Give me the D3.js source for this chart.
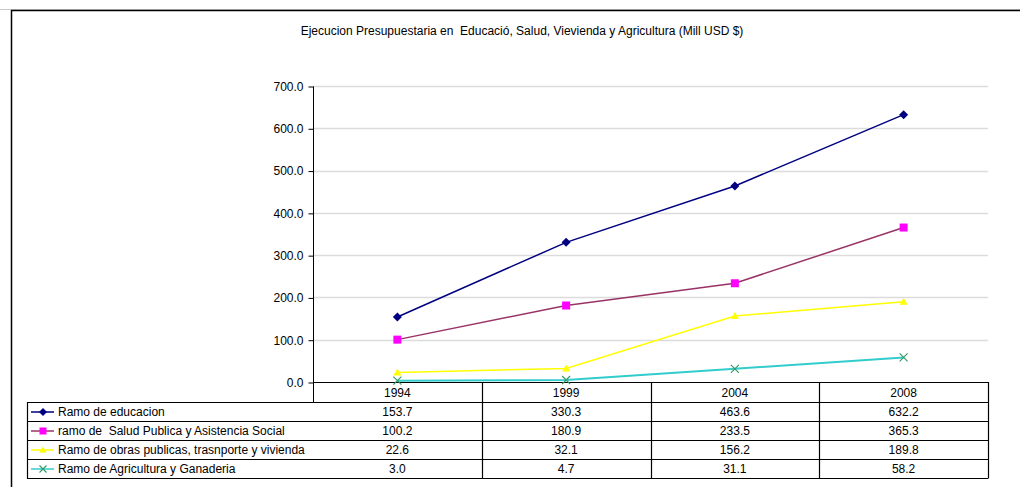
<!DOCTYPE html>
<html>
<head>
<meta charset="utf-8">
<script src="https://cdn.jsdelivr.net/npm/d3@7"></script>
<style>
  body { margin: 0; background: #fff; }
  svg text { font-family: "Liberation Sans", Arial, sans-serif; font-size: 12px; fill: #000; white-space: pre; }
</style>
</head>
<body>
<svg id="chart" width="1020" height="487"></svg>
<script>
/* Ejecucion presupuestaria - line chart with data table underneath */

var years = ["1994", "1999", "2004", "2008"];
var yTicks = [0, 100, 200, 300, 400, 500, 600, 700];

var seriesNames = [
  "Ramo de educacion",
  "ramo de  Salud Publica y Asistencia Social",
  "Ramo de obras publicas, trasnporte y vivienda",
  "Ramo de Agricultura y Ganaderia"
];
var educacion = [153.7, 330.3, 463.6, 632.2];
var salud = [100.2, 180.9, 233.5, 365.3];
var obras = [22.6, 32.1, 156.2, 189.8];
var agricultura = [3.0, 4.7, 31.1, 58.2];

var lineColors = ["#000080", "#993366", "#ffff00", "#33cccc"];
var markColors = ["#000080", "#ff00ff", "#ffff00", "#339966"];
var markTypes = ["diamond", "square", "triangle", "x"];

var series = [educacion, salud, obras, agricultura].map(function(v, i) {
  return {name: seriesNames[i], values: v, line: lineColors[i], mark: markColors[i], type: markTypes[i]};
});

var svg = d3.select("#chart");

// outer frame
svg.append("line").attr("x1", 0).attr("x2", 1020).attr("y1", 9.5).attr("y2", 9.5)
  .attr("stroke", "#c8c8c8");
svg.append("rect").attr("x", 11.5).attr("y", 10.5).attr("width", 1020).attr("height", 500)
  .attr("fill", "none").attr("stroke", "#000").attr("stroke-width", 1.5);

svg.append("text")
  .attr("x", 522).attr("y", 35)
  .attr("text-anchor", "middle")
  .text("Ejecucion Presupuestaria en  Educació, Salud, Vievienda y Agricultura (Mill USD $)");

var plotLeft = 313, plotRight = 988, plotTop = 86, plotBottom = 382;

var x = d3.scaleBand().domain(years).range([plotLeft, plotRight]);
var y = d3.scaleLinear().domain([0, 700]).range([plotBottom, plotTop]);

// gridlines
svg.append("g").selectAll("line")
  .data(yTicks.slice(1))
  .join("line")
  .attr("x1", plotLeft).attr("x2", plotRight)
  .attr("y1", function(d) { return Math.round(y(d)) + 0.5; })
  .attr("y2", function(d) { return Math.round(y(d)) + 0.5; })
  .attr("stroke", "#dcdcdc").attr("stroke-width", 1.5);

// y axis
var yAxis = svg.append("g")
  .attr("transform", "translate(" + (plotLeft + 0.5) + ",0.5)")
  .call(d3.axisLeft(y).tickValues(yTicks).tickSize(5).tickPadding(5).tickFormat(d3.format(".1f")));
yAxis.selectAll("path, line").attr("stroke", "#000");
yAxis.select(".domain").attr("d", "M0," + plotTop + "V" + (plotBottom + 20));
yAxis.selectAll("text").style("font-size", "12px").style("font-family", "'Liberation Sans', Arial, sans-serif");

// lines
var line = d3.line()
  .x(function(d, i) { return x(years[i]) + x.bandwidth() / 2; })
  .y(function(d) { return y(d); });

var lineG = svg.append("g");
series.slice().reverse().forEach(function(s) {
  lineG.append("path")
    .datum(s.values)
    .attr("d", line)
    .attr("fill", "none")
    .attr("stroke", s.line)
    .attr("stroke-width", s.type === "x" ? 2 : 1.5);
});

// x axis baseline
svg.append("line")
  .attr("x1", plotLeft).attr("x2", plotRight)
  .attr("y1", plotBottom + 0.5).attr("y2", plotBottom + 0.5)
  .attr("stroke", "#000").attr("stroke-width", 1.2);

function drawMarker(g, type, color, cx, cy, size) {
  var h = size / 2;
  if (type === "diamond") {
    g.append("path").attr("d", "M" + cx + "," + (cy - h - 0.5) + "L" + (cx + h + 0.5) + "," + cy +
        "L" + cx + "," + (cy + h + 0.5) + "L" + (cx - h - 0.5) + "," + cy + "Z")
      .attr("fill", color);
  } else if (type === "square") {
    g.append("rect").attr("x", cx - h).attr("y", cy - h)
      .attr("width", size).attr("height", size).attr("fill", color);
  } else if (type === "triangle") {
    g.append("path").attr("d", "M" + cx + "," + (cy - h) + "L" + (cx + h) + "," + (cy + h - 1) +
        "L" + (cx - h) + "," + (cy + h - 1) + "Z")
      .attr("fill", color);
  } else {
    g.append("path").attr("d", "M" + (cx - h) + "," + (cy - h) + "L" + (cx + h) + "," + (cy + h) +
        "M" + (cx - h) + "," + (cy + h) + "L" + (cx + h) + "," + (cy - h))
      .attr("stroke", color).attr("stroke-width", 1.1).attr("fill", "none");
  }
}

var markG = svg.append("g");
series.slice().reverse().forEach(function(s) {
  s.values.forEach(function(v, i) {
    drawMarker(markG, s.type, s.mark, x(years[i]) + x.bandwidth() / 2, y(v), 8);
  });
});

// data table
var rowH = 19;
var headTop = plotBottom, tableTop = 402, legendLeft = 27;
var tableG = svg.append("g");

years.forEach(function(yr, i) {
  tableG.append("text")
    .attr("x", x(yr) + x.bandwidth() / 2).attr("y", headTop + 15)
    .attr("text-anchor", "middle").text(yr);
});

series.forEach(function(s, r) {
  var ty = tableTop + r * rowH;
  tableG.append("line")
    .attr("x1", legendLeft + 4).attr("x2", legendLeft + 27)
    .attr("y1", ty + rowH / 2 + 0.5).attr("y2", ty + rowH / 2 + 0.5)
    .attr("stroke", s.line).attr("stroke-width", 1.5);
  drawMarker(tableG, s.type, s.mark, legendLeft + 16, ty + rowH / 2 + 0.5, 7);
  tableG.append("text").attr("x", legendLeft + 31).attr("y", ty + 14).text(s.name);
  s.values.forEach(function(v, i) {
    tableG.append("text")
      .attr("x", x(years[i]) + x.bandwidth() / 2).attr("y", ty + 14)
      .attr("text-anchor", "middle").text(d3.format(".1f")(v));
  });
});

// table grid lines
var tableBottom = tableTop + series.length * rowH;
var gridG = svg.append("g").attr("stroke", "#000").attr("stroke-width", 1.2);
d3.range(series.length + 1).forEach(function(r) {
  var yy = tableTop + r * rowH + 0.5;
  gridG.append("line").attr("x1", legendLeft).attr("x2", plotRight).attr("y1", yy).attr("y2", yy);
});
gridG.append("line").attr("x1", legendLeft + 0.5).attr("x2", legendLeft + 0.5)
  .attr("y1", tableTop).attr("y2", tableBottom + 0.5);
years.forEach(function(yr) {
  var xx = Math.round(x(yr) + x.bandwidth()) + 0.5;
  gridG.append("line").attr("x1", xx).attr("x2", xx).attr("y1", headTop).attr("y2", tableBottom + 0.5);
});
</script>
</body>
</html>
